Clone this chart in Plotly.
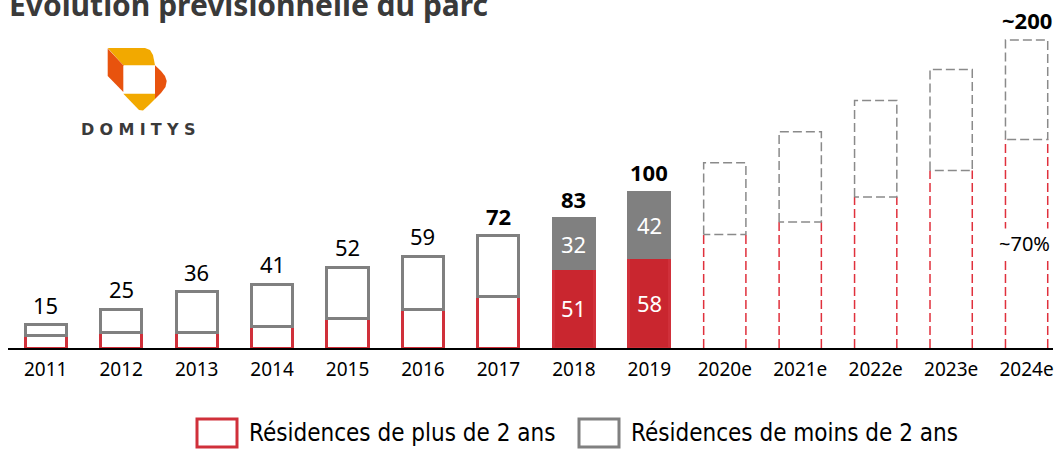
import plotly.graph_objects as go

# ---------------- data ----------------
years = ["2011", "2012", "2013", "2014", "2015", "2016", "2017", "2018", "2019",
         "2020e", "2021e", "2022e", "2023e", "2024e"]
hist_total = [15, 25, 36, 41, 52, 59, 72, 83, 100]
hist_older = [8, 10, 10, 14, 19, 25, 33, 51, 58]
hist_filled = [False, False, False, False, False, False, False, True, True]
hist_bold = [False, False, False, False, False, False, True, True, True]
fc_total = [119, 139, 159, 179, 198]
fc_older = [73, 81, 97, 114, 134]
fc_label = ["", "", "", "", "~200"]
fc_share_label = "~70%"
series_names = ["Résidences de plus de 2 ans", "Résidences de moins de 2 ans"]
title = "Évolution prévisionnelle du parc"

hist_newer = [t - o for t, o in zip(hist_total, hist_older)]
n_hist = len(hist_total)
x_all = list(range(len(years)))
x_hist = x_all[:n_hist]
x_fc = x_all[n_hist:]

RED = "#C9262F"
RED_LINE = "#D0303A"
GRAY = "#808080"
BAR_W = 0.545
FC_W = 0.56

W, H = 1056, 449
ML, MR, MT, MB = 8, 3, 20, 101
PW, PH = W - ML - MR, H - MT - MB
YMAX = PH / 1.556


def px(x):
    return (x - ML) / PW


def py(y):
    return (H - MB - y) / PH


fig = go.Figure()

fig.add_trace(go.Bar(
    x=x_hist, y=hist_older, width=BAR_W,
    marker=dict(color=[RED if f else "white" for f in hist_filled],
                line=dict(color=RED_LINE, width=3)),
    showlegend=False, hoverinfo="skip"))
fig.add_trace(go.Bar(
    x=x_hist, y=hist_newer, width=BAR_W,
    marker=dict(color=[GRAY if f else "white" for f in hist_filled],
                line=dict(color=GRAY, width=3)),
    showlegend=False, hoverinfo="skip"))

# forecast dashed outlines
hw = FC_W / 2
rx, ry, gx, gy = [], [], [], []
for xi, o, t in zip(x_fc, fc_older, fc_total):
    rx += [xi - hw, xi - hw, None, xi + hw, xi + hw, None]
    ry += [0, o, None, 0, o, None]
    gx += [xi - hw, xi - hw, xi + hw, xi + hw, xi - hw, None]
    gy += [o, t, t, o, o, None]
fig.add_trace(go.Scatter(x=rx, y=ry, mode="lines",
                         line=dict(color="#E0303C", width=1.5, dash="9px,4px"),
                         showlegend=False, hoverinfo="skip", cliponaxis=False))
fig.add_trace(go.Scatter(x=gx, y=gy, mode="lines",
                         line=dict(color="#8a8a8a", width=1.5, dash="9px,4px"),
                         showlegend=False, hoverinfo="skip", cliponaxis=False))

ann = []
FONT = "Noto Sans"
for xi, t, b in zip(x_hist, hist_total, hist_bold):
    ann.append(dict(x=xi, y=t, xref="x", yref="y", text=f"<b>{t}</b>" if b else str(t),
                    showarrow=False, xanchor="center", yanchor="bottom", yshift=3,
                    font=dict(family=FONT, size=22, color="black")))
for xi, o, nw, f in zip(x_hist, hist_older, hist_newer, hist_filled):
    if f:
        ann.append(dict(x=xi, y=o / 2, xref="x", yref="y", text=str(o), showarrow=False,
                        xanchor="center", yanchor="middle",
                        font=dict(family=FONT, size=22, color="white")))
        ann.append(dict(x=xi, y=o + nw / 2, xref="x", yref="y", text=str(nw), showarrow=False,
                        xanchor="center", yanchor="middle",
                        font=dict(family=FONT, size=22, color="white")))
for xi, t, lab in zip(x_fc, fc_total, fc_label):
    if lab:
        ann.append(dict(x=xi, y=t, xref="x", yref="y", text=f"<b>{lab}</b>",
                        showarrow=False, xanchor="center", yanchor="bottom", yshift=3,
                        font=dict(family=FONT, size=22, color="black")))
ann.append(dict(x=x_fc[-1], y=fc_older[-1] / 2, xref="x", yref="y", text=fc_share_label,
                showarrow=False, bgcolor="white", xshift=-2, xanchor="center", yanchor="middle",
                font=dict(family=FONT, size=20, color="black")))

# title (partly cut at top like the reference)
ann.append(dict(x=px(7), y=py(27), xref="paper", yref="paper", text=f"<b>{title}</b>",
                showarrow=False, xanchor="left", yanchor="bottom",
                font=dict(family=FONT, size=30, color="#3a3a3a")))

# legend (manual)
shapes = []
leg = [(197, RED_LINE, series_names[0]), (579, GRAY, series_names[1])]
for lx, col, name in leg:
    shapes.append(dict(type="rect", xref="paper", yref="paper",
                       x0=px(lx), x1=px(lx + 40), y0=py(447), y1=py(419),
                       line=dict(color=col, width=3), fillcolor="white"))
    ann.append(dict(x=px(lx + 50), y=py(433), xref="paper", yref="paper", text=name,
                    showarrow=False, xanchor="left", yanchor="middle",
                    font=dict(family="DejaVu Sans Condensed, Liberation Sans Narrow, Noto Sans",
                              size=24, color="black")))

# logo
def path(pts):
    return "M " + " L ".join(f"{px(a)},{py(b)}" for a, b in pts) + " Z"

YEL = "#F2A900"
ORA = "#E8530E"
shapes.append(dict(type="path", xref="paper", yref="paper", line=dict(width=0), fillcolor=YEL,
                   path=path([(107.7, 48), (145, 48), (150, 50), (153, 55), (155, 65.3), (123.3, 65.3)])))
shapes.append(dict(type="path", xref="paper", yref="paper", line=dict(width=0), fillcolor=ORA,
                   path=path([(107.7, 48.5), (123.3, 65.3), (123.3, 92), (107.7, 76)])))
shapes.append(dict(type="path", xref="paper", yref="paper", line=dict(width=0), fillcolor=ORA,
                   path=path([(155, 65.3), (161, 71), (165, 76), (166.7, 81), (165.5, 87), (161, 93),
                              (155, 99)])))
shapes.append(dict(type="path", xref="paper", yref="paper", line=dict(width=0), fillcolor=YEL,
                   path=path([(123.3, 93.7), (155, 93.7), (155, 99), (149, 105), (143, 110.5),
                              (139, 110)])))
ann.append(dict(x=px(137.5), y=py(129.5), xref="paper", yref="paper",
                text="<b>D\u2004O\u2004M\u2004I\u2004T\u2004Y\u2004S</b>", showarrow=False,
                xanchor="center", yanchor="middle",
                font=dict(family="DejaVu Sans", size=16, color="#3a3a3a")))

fig.update_layout(
    width=W, height=H, margin=dict(l=ML, r=MR, t=MT, b=MB),
    paper_bgcolor="white", plot_bgcolor="white",
    barmode="stack", annotations=ann, shapes=shapes, showlegend=False,
    xaxis=dict(range=[-0.5, 13.35], tickmode="array", tickvals=x_all, ticktext=years,
               showgrid=False, zeroline=False, showline=True, linecolor="black", linewidth=2,
               ticks="", ticklabelstandoff=3,
               tickfont=dict(family=FONT, size=19, color="black")),
    yaxis=dict(range=[0, YMAX], visible=False, showgrid=False, zeroline=False),
)

fig.write_html("out.html", config={"displayModeBar": False},
               post_script="document.body.style.margin='0';document.body.style.padding='0';")
